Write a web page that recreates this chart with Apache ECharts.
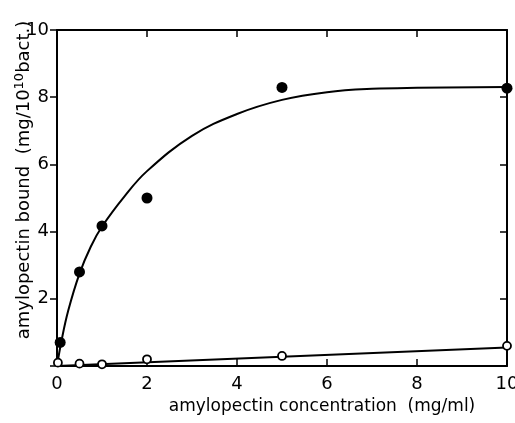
<!DOCTYPE html>
<html>
<head>
<meta charset="utf-8">
<script src="https://cdn.jsdelivr.net/npm/echarts@6/dist/echarts.min.js"></script>
<style>
html,body{margin:0;padding:0;background:#fff;}
#chart{width:515px;height:423px;}
</style>
</head>
<body>
<div id="chart"></div>
<script>
// measured points
var filledPts = [[0.07, 0.7], [0.5, 2.8], [1, 4.17], [2, 5.0], [5, 8.29], [10, 8.27]];
var openPts = [[0.02, 0.1], [0.5, 0.07], [1, 0.05], [2, 0.2], [5, 0.3], [10, 0.6]];
// drawn curves
var filledCurve = [[0, 0], [0.1, 0.75], [0.25, 1.65], [0.5, 2.75], [0.75, 3.55], [1, 4.15], [1.5, 5.05], [2, 5.8], [3, 6.85], [4, 7.5], [5, 7.92], [6, 8.15], [7, 8.25], [8, 8.28], [10, 8.3]];
var openCurve = [[0, 0], [10, 0.55]];
var xTicks = [0, 2, 4, 6, 8, 10];
var yTicks = [0, 2, 4, 6, 8, 10];

var chart = echarts.init(document.getElementById('chart'));
var fnt = 'DejaVu Sans';
var option = {
	animation: false,
	grid: {left: 57, right: 8, top: 30, bottom: 57, outerBoundsMode: 'none', containLabel: false},
	// y title drawn as graphic text so it can sit a bit above centre like the original
	graphic: [{
		type: 'text', x: 24, y: 180, rotation: Math.PI / 2,
		style: {
			text: 'amylopectin bound  (mg/10{sup|10}bact.)',
			fontFamily: fnt, fontSize: 18, fill: '#000', align: 'center', verticalAlign: 'middle', lineHeight: 22,
			rich: {sup: {fontFamily: fnt, fontSize: 13, fill: '#000', verticalAlign: 'top', lineHeight: 22}}
		}
	}],
	xAxis: [{
		type: 'value', min: 0, max: 10, interval: 2,
		name: 'amylopectin concentration  (mg/ml)',
		nameLocation: 'middle', nameGap: 32,
		nameTextStyle: {fontFamily: fnt, fontSize: 17, color: '#000', padding: [0, 0, 0, 80]},
		axisLine: {onZero: false, lineStyle: {color: '#000', width: 2}},
		axisTick: {inside: true, length: 7, lineStyle: {color: '#000', width: 1.5}},
		axisLabel: {fontFamily: fnt, fontSize: 18, color: '#000', margin: 9,
			formatter: function (v) { return xTicks.indexOf(v) >= 0 ? String(v) : ''; }},
		splitLine: {show: false}
	}, {
		type: 'value', min: 0, max: 10, interval: 2, position: 'top',
		axisLine: {show: true, onZero: false, lineStyle: {color: '#000', width: 2}},
		axisTick: {show: true, inside: true, length: 7, lineStyle: {color: '#000', width: 1.5}},
		axisLabel: {show: false}, splitLine: {show: false}
	}],
	yAxis: [{
		type: 'value', min: 0, max: 10, interval: 2,
		axisLine: {onZero: false, lineStyle: {color: '#000', width: 2}},
		axisTick: {inside: false, length: 7, lineStyle: {color: '#000', width: 1.5}},
		axisLabel: {fontFamily: fnt, fontSize: 18, color: '#000', margin: 8,
			formatter: function (v) { return (v === 0 || yTicks.indexOf(v) < 0) ? '' : String(v); }},
		splitLine: {show: false}
	}, {
		type: 'value', min: 0, max: 10, interval: 2, position: 'right',
		axisLine: {show: true, onZero: false, lineStyle: {color: '#000', width: 2}},
		axisTick: {show: true, inside: true, length: 7, lineStyle: {color: '#000', width: 1.5}},
		axisLabel: {show: false}, splitLine: {show: false}
	}],
	series: [{
		type: 'line', data: filledCurve, smooth: 0.4, showSymbol: false,
		lineStyle: {color: '#000', width: 2}, z: 2
	}, {
		type: 'line', data: openCurve, showSymbol: false, xAxisIndex: 1, yAxisIndex: 1,
		lineStyle: {color: '#000', width: 2}, z: 2
	}, {
		type: 'scatter', data: filledPts, symbol: 'circle', symbolSize: 11,
		itemStyle: {color: '#000', opacity: 1}, z: 3
	}, {
		type: 'scatter', data: openPts, symbol: 'circle', symbolSize: 8,
		itemStyle: {color: '#fff', borderColor: '#000', borderWidth: 1.8, opacity: 1}, z: 3
	}]
};
chart.setOption(option);
</script>
</body>
</html>
